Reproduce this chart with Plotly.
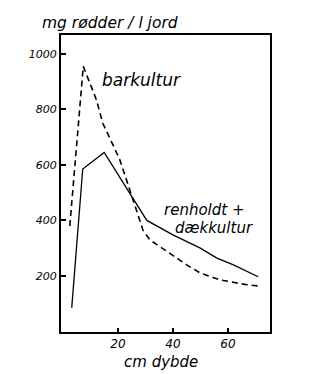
import plotly.graph_objects as go

depth_bar = [2.5, 7.4, 12.2, 14.5, 18.2, 20.7, 25.5, 29.1, 31.6, 35.3, 38.9, 45, 49.8, 57, 66.9, 71]
roots_bar = [380, 955, 834, 750, 672, 618, 474, 365, 330, 305, 283, 240, 211, 186, 168, 164]

depth_ren = [3.2, 7.2, 15, 30.5, 40, 49.8, 56, 62, 71]
roots_ren = [85, 585, 645, 400, 348, 301, 264, 240, 197]

y_ticks = [200, 400, 600, 800, 1000]
x_ticks = [20, 40, 60]

FONT = "DejaVu Sans"

fig = go.Figure()
fig.add_trace(go.Scatter(x=depth_bar, y=roots_bar, mode="lines",
                         line=dict(color="black", width=1.6, dash="6px,4px"),
                         name="barkultur"))
fig.add_trace(go.Scatter(x=depth_ren, y=roots_ren, mode="lines",
                         line=dict(color="black", width=1.3),
                         name="renholdt + dækkultur"))

fig.update_layout(
    width=322, height=374,
    margin=dict(l=61, r=52, t=35, b=42),
    paper_bgcolor="white", plot_bgcolor="white",
    showlegend=False,
    font=dict(family=FONT, color="black", style="italic"),
    xaxis=dict(range=[-0.7, 75.3], tickvals=x_ticks, ticks="inside", ticklen=4,
               tickwidth=1.5, tickcolor="black", showgrid=False, zeroline=False,
               showline=True, linecolor="black", linewidth=2, mirror=True,
               tickfont=dict(size=12, family=FONT, style="italic")),
    yaxis=dict(range=[-2, 1068], tickvals=y_ticks, ticks="inside", ticklen=5,
               tickwidth=1.5, tickcolor="black", showgrid=False, zeroline=False,
               showline=True, linecolor="black", linewidth=2, mirror=True,
               tickfont=dict(size=11, family=FONT, style="italic")),
)

fig.add_annotation(text="mg rødder / l jord", xref="paper", yref="paper",
                   x=-0.1, y=1.04, xanchor="left", yanchor="middle", showarrow=False,
                   font=dict(size=15.5, family=FONT, style="italic"))
fig.add_annotation(text="barkultur", x=13.5, y=906, xanchor="left", yanchor="middle",
                   showarrow=False, font=dict(size=17, family=FONT, style="italic"))
fig.add_annotation(text="renholdt +", x=36, y=438, xanchor="left", yanchor="middle",
                   showarrow=False, font=dict(size=15, family=FONT, style="italic"))
fig.add_annotation(text="dækkultur", x=40, y=373, xanchor="left", yanchor="middle",
                   showarrow=False, font=dict(size=15, family=FONT, style="italic"))
fig.add_annotation(text="cm dybde", xref="paper", yref="paper",
                   x=0.48, y=-0.1, xanchor="center", yanchor="middle", showarrow=False,
                   font=dict(size=15, family=FONT, style="italic"))

fig.write_html("out.html")
